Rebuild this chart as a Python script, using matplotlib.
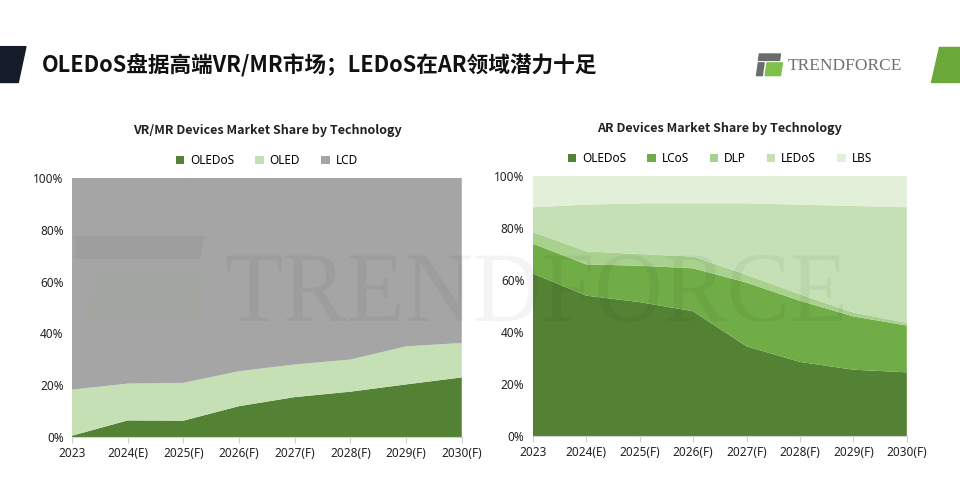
import numpy as np
import matplotlib.pyplot as plt
from matplotlib.patches import Polygon, PathPatch
from matplotlib.textpath import TextPath
from matplotlib.font_manager import FontProperties
from matplotlib.transforms import Affine2D

# category labels
years = ['2023', '2024(E)', '2025(F)', '2026(F)', '2027(F)', '2028(F)', '2029(F)', '2030(F)']

# VR/MR share (%)
vr_oledos = [0.5, 6.4, 6.3, 11.9, 15.4, 17.5, 20.3, 23.0]
vr_oled = [17.8, 14.2, 14.6, 13.5, 12.6, 12.4, 14.7, 13.3]
vr_lcd = [100 - a - b for a, b in zip(vr_oledos, vr_oled)]

# AR share (%)
ar_oledos = [62.5, 54.0, 51.5, 48.0, 34.5, 28.5, 25.5, 24.5]
ar_lcos = [11.5, 12.0, 14.0, 16.5, 24.5, 23.5, 20.5, 18.0]
ar_dlp = [4.5, 5.0, 4.5, 4.5, 3.0, 2.5, 1.5, 1.0]
ar_ledos = [9.5, 18.0, 19.5, 20.5, 27.5, 34.5, 41.0, 44.5]
ar_lbs = [100 - a - b - c - d for a, b, c, d in zip(ar_oledos, ar_lcos, ar_dlp, ar_ledos)]

plt.rcParams['font.family'] = ['Noto Sans', 'Noto Sans CJK SC', 'DejaVu Sans']

fig = plt.figure(figsize=(9.6, 4.91), dpi=100)

# header decorations
fig.patches.append(Polygon([[0, 0.905], [0.027, 0.905], [0.019, 0.832], [0, 0.832]],
                           closed=True, transform=fig.transFigure, color='#141c2b'))
fig.patches.append(Polygon([[0.978, 0.905], [1.0, 0.905], [1.0, 0.832], [0.970, 0.832]],
                           closed=True, transform=fig.transFigure, color='#6aa83a'))
fig.text(0.044, 0.866, 'OLEDoS盘据高端VR/MR市场；LEDoS在AR领域潜力十足',
         family=['Noto Sans CJK SC', 'DejaVu Sans'], fontsize=15.6, fontweight='bold',
         color='#111111', va='center', ha='left')
fig.text(0.820, 0.866, 'TRENDFORCE', family=['Liberation Serif'], fontsize=12.5,
         color='#707070', va='center', ha='left')
fig.patches.append(Polygon([[0.791, 0.890], [0.813, 0.890], [0.812, 0.877], [0.790, 0.877]],
                           closed=True, transform=fig.transFigure, color='#6b6b6b'))
fig.patches.append(Polygon([[0.799, 0.872], [0.815, 0.872], [0.813, 0.846], [0.797, 0.846]],
                           closed=True, transform=fig.transFigure, color='#7fbf4a'))
fig.patches.append(Polygon([[0.790, 0.872], [0.796, 0.872], [0.794, 0.846], [0.788, 0.846]],
                           closed=True, transform=fig.transFigure, color='#6b6b6b'))

# faint watermark drawn as a path (pixel coordinates)
wm = TextPath((0, 0), 'TRENDFORCE', size=100, prop=FontProperties(family='Liberation Serif'))
fig.patches.append(PathPatch(wm, transform=Affine2D().scale(0.95, 1.0).translate(225, 170),
                             facecolor='#000000', edgecolor='none', alpha=0.045, zorder=10))
# faint logo mark on the left
fig.patches.append(Polygon([[75, 255], [205, 255], [200, 232], [75, 232]],
                           closed=True, facecolor='#000000', alpha=0.04, zorder=10,
                           transform=None))
fig.patches.append(Polygon([[95, 222], [205, 222], [198, 170], [88, 170]],
                           closed=True, facecolor='#7fbf4a', alpha=0.05, zorder=10,
                           transform=None))


def style_axes(ax):
    ax.set_xlim(0, 7)
    ax.set_ylim(0, 100)
    ax.set_xticks(range(8))
    ax.set_xticklabels(years, fontsize=8.5, color='#222222')
    ax.set_yticks(range(0, 101, 20))
    ax.set_yticklabels([f'{v}%' for v in range(0, 101, 20)], fontsize=8.5, color='#222222')
    for s in ['top', 'right', 'left']:
        ax.spines[s].set_visible(False)
    ax.spines['bottom'].set_color('#d0d0d0')
    ax.tick_params(axis='y', length=0, pad=6)
    ax.tick_params(axis='x', length=4, color='#d0d0d0', pad=3)


x = np.arange(len(years))

ax1 = fig.add_axes([0.075, 0.110, 0.406, 0.5275])
ax1.stackplot(x, vr_oledos, vr_oled, vr_lcd,
              colors=['#548235', '#c5e0b4', '#a5a5a5'],
              labels=['OLEDoS', 'OLED', 'LCD'])
style_axes(ax1)
ax1.set_title('VR/MR Devices Market Share by Technology', fontsize=9,
              family=['Noto Sans CJK SC', 'DejaVu Sans'],
              fontweight='bold', color='#222222', pad=32)
ax1.legend(loc='lower center', bbox_to_anchor=(0.5, 1.0), ncol=3, frameon=False,
           fontsize=8.5, handlelength=0.7, handleheight=0.7, columnspacing=1.8,
           handletextpad=0.5)

ax2 = fig.add_axes([0.555, 0.112, 0.3896, 0.5295])
ax2.stackplot(x, ar_oledos, ar_lcos, ar_dlp, ar_ledos, ar_lbs,
              colors=['#548235', '#70ad47', '#a9d18e', '#c5e0b4', '#e2efd9'],
              labels=['OLEDoS', 'LCoS', 'DLP', 'LEDoS', 'LBS'])
style_axes(ax2)
ax2.set_title('AR Devices Market Share by Technology', fontsize=9,
              family=['Noto Sans CJK SC', 'DejaVu Sans'],
              fontweight='bold', color='#222222', pad=32)
ax2.legend(loc='lower center', bbox_to_anchor=(0.5, 1.0), ncol=5, frameon=False,
           fontsize=8.5, handlelength=0.7, handleheight=0.7, columnspacing=1.8,
           handletextpad=0.5)

fig.savefig('out.png', dpi=100)
